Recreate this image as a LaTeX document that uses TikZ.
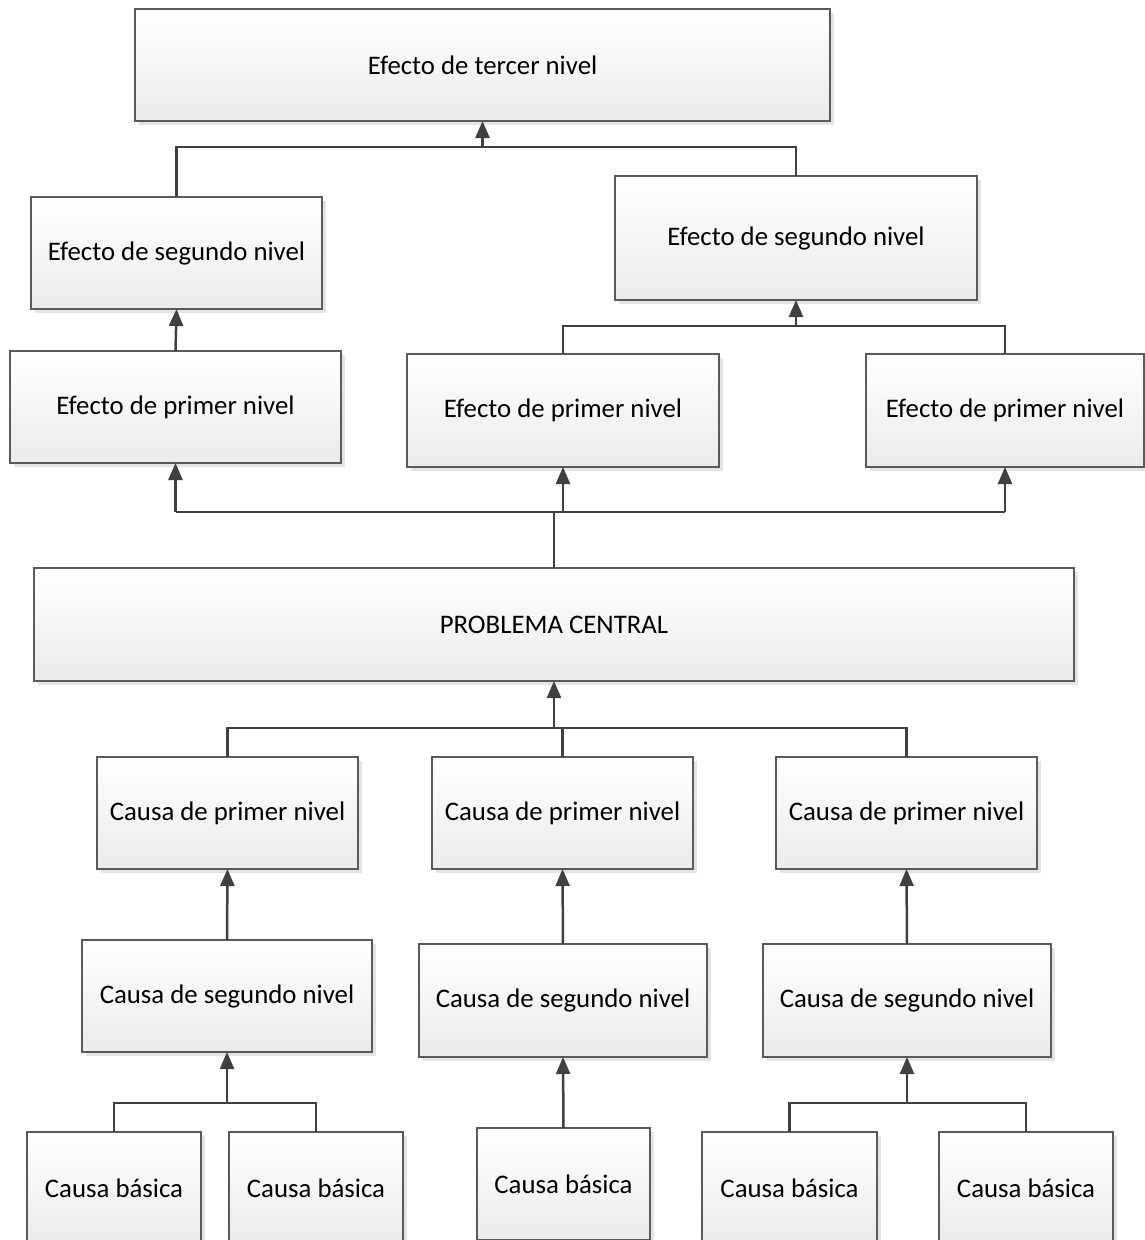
\documentclass[tikz,border=0pt]{standalone}
\usepackage{fontspec}
\setmainfont{Carlito}
\usetikzlibrary{arrows.meta,shadows}

\definecolor{edge}{HTML}{5A5A5A}
\definecolor{wire}{HTML}{404040}
\definecolor{shadeend}{HTML}{EBEBEB}

\tikzset{
  box/.style={draw=edge, line width=1.2pt, top color=white, bottom color=shadeend,
    rectangle, inner sep=0pt, outer sep=0pt, align=center,
    font=\fontsize{26.8}{32}\selectfont,
    drop shadow={shadow xshift=4pt, shadow yshift=-4pt, fill=black!15, opacity=0.7}},
  wirestyle/.style={draw=wire, line width=2.5pt},
  uparrow/.style={wirestyle, -{Triangle[length=17pt,width=14pt]}}
}

\begin{document}
\begin{tikzpicture}[x=1pt,y=-1pt]
\useasboundingbox (0,0) rectangle (1145,1240);

% Effects
\node[box, minimum width=695pt, minimum height=112pt] (t3) at (482.5,65) {Efecto de tercer nivel};
\node[box, minimum width=291pt, minimum height=112pt] (s2L) at (176.5,253) {Efecto de segundo nivel};
\node[box, minimum width=362pt, minimum height=124pt] (s2R) at (796,238) {Efecto de segundo nivel};
\node[box, minimum width=331pt, minimum height=112pt] (p1L) at (175.5,407) {Efecto de primer nivel};
\node[box, minimum width=312pt, minimum height=113pt] (p1M) at (563,410.5) {Efecto de primer nivel};
\node[box, minimum width=278pt, minimum height=113pt] (p1R) at (1005,410.5) {Efecto de primer nivel};

% Central problem
\node[box, minimum width=1040pt, minimum height=113pt] (pc) at (554,624.5) {PROBLEMA CENTRAL};

% Causes
\node[box, minimum width=261pt, minimum height=112pt] (c1a) at (227.5,813) {Causa de primer nivel};
\node[box, minimum width=261pt, minimum height=112pt] (c1b) at (562.5,813) {Causa de primer nivel};
\node[box, minimum width=261pt, minimum height=112pt] (c1c) at (906.5,813) {Causa de primer nivel};
\node[box, minimum width=290pt, minimum height=112pt] (c2a) at (227,996) {Causa de segundo nivel};
\node[box, minimum width=288pt, minimum height=113pt] (c2b) at (563,1000.5) {Causa de segundo nivel};
\node[box, minimum width=288pt, minimum height=113pt] (c2c) at (907,1000.5) {Causa de segundo nivel};
\node[box, minimum width=174pt, minimum height=112pt] (b1) at (114,1188) {Causa básica};
\node[box, minimum width=174pt, minimum height=112pt] (b2) at (316,1188) {Causa básica};
\node[box, minimum width=173pt, minimum height=112pt] (b3) at (563.5,1184) {Causa básica};
\node[box, minimum width=175pt, minimum height=112pt] (b4) at (789.5,1188) {Causa básica};
\node[box, minimum width=174pt, minimum height=112pt] (b5) at (1026,1188) {Causa básica};

% Junction points of the connector trees
\coordinate (jt3) at (482.5,147);
\coordinate (js2R) at (796,326);
\coordinate (jpc) at (554,512);
\coordinate (jc) at (554,728);
\coordinate (jc2a) at (227,1103);
\coordinate (jc2c) at (907,1103);

% Top: second level effects into third level
\draw[wirestyle] (s2L.north) |- (jt3);
\draw[wirestyle] (s2R.north) |- (jt3);
\draw[uparrow] (jt3) -- (t3.south);

% First level effects into second level
\draw[uparrow] (p1L.north) -- (s2L.south);
\draw[wirestyle] (p1M.north) |- (js2R);
\draw[wirestyle] (p1R.north) |- (js2R);
\draw[uparrow] (js2R) -- (s2R.south);

% Central problem into first level effects
\draw[wirestyle] (pc.north) -- (jpc);
\draw[wirestyle] (p1L.south |- jpc) -- (p1R.south |- jpc);
\draw[uparrow] (p1L.south |- jpc) -- (p1L.south);
\draw[uparrow] (p1M.south |- jpc) -- (p1M.south);
\draw[uparrow] (p1R.south |- jpc) -- (p1R.south);

% First level causes into central problem
\draw[wirestyle] (c1a.north) |- (jc);
\draw[wirestyle] (c1c.north) |- (jc);
\draw[wirestyle] (c1b.north) -- (c1b.north |- jc);
\draw[uparrow] (jc) -- (pc.south);

% Second level causes into first level
\draw[uparrow] (c2a.north) -- (c1a.south);
\draw[uparrow] (c2b.north) -- (c1b.south);
\draw[uparrow] (c2c.north) -- (c1c.south);

% Basic causes into second level
\draw[wirestyle] (b1.north) |- (jc2a);
\draw[wirestyle] (b2.north) |- (jc2a);
\draw[uparrow] (jc2a) -- (c2a.south);
\draw[uparrow] (b3.north) -- (c2b.south);
\draw[wirestyle] (b4.north) |- (jc2c);
\draw[wirestyle] (b5.north) |- (jc2c);
\draw[uparrow] (jc2c) -- (c2c.south);
\end{tikzpicture}
\end{document}
